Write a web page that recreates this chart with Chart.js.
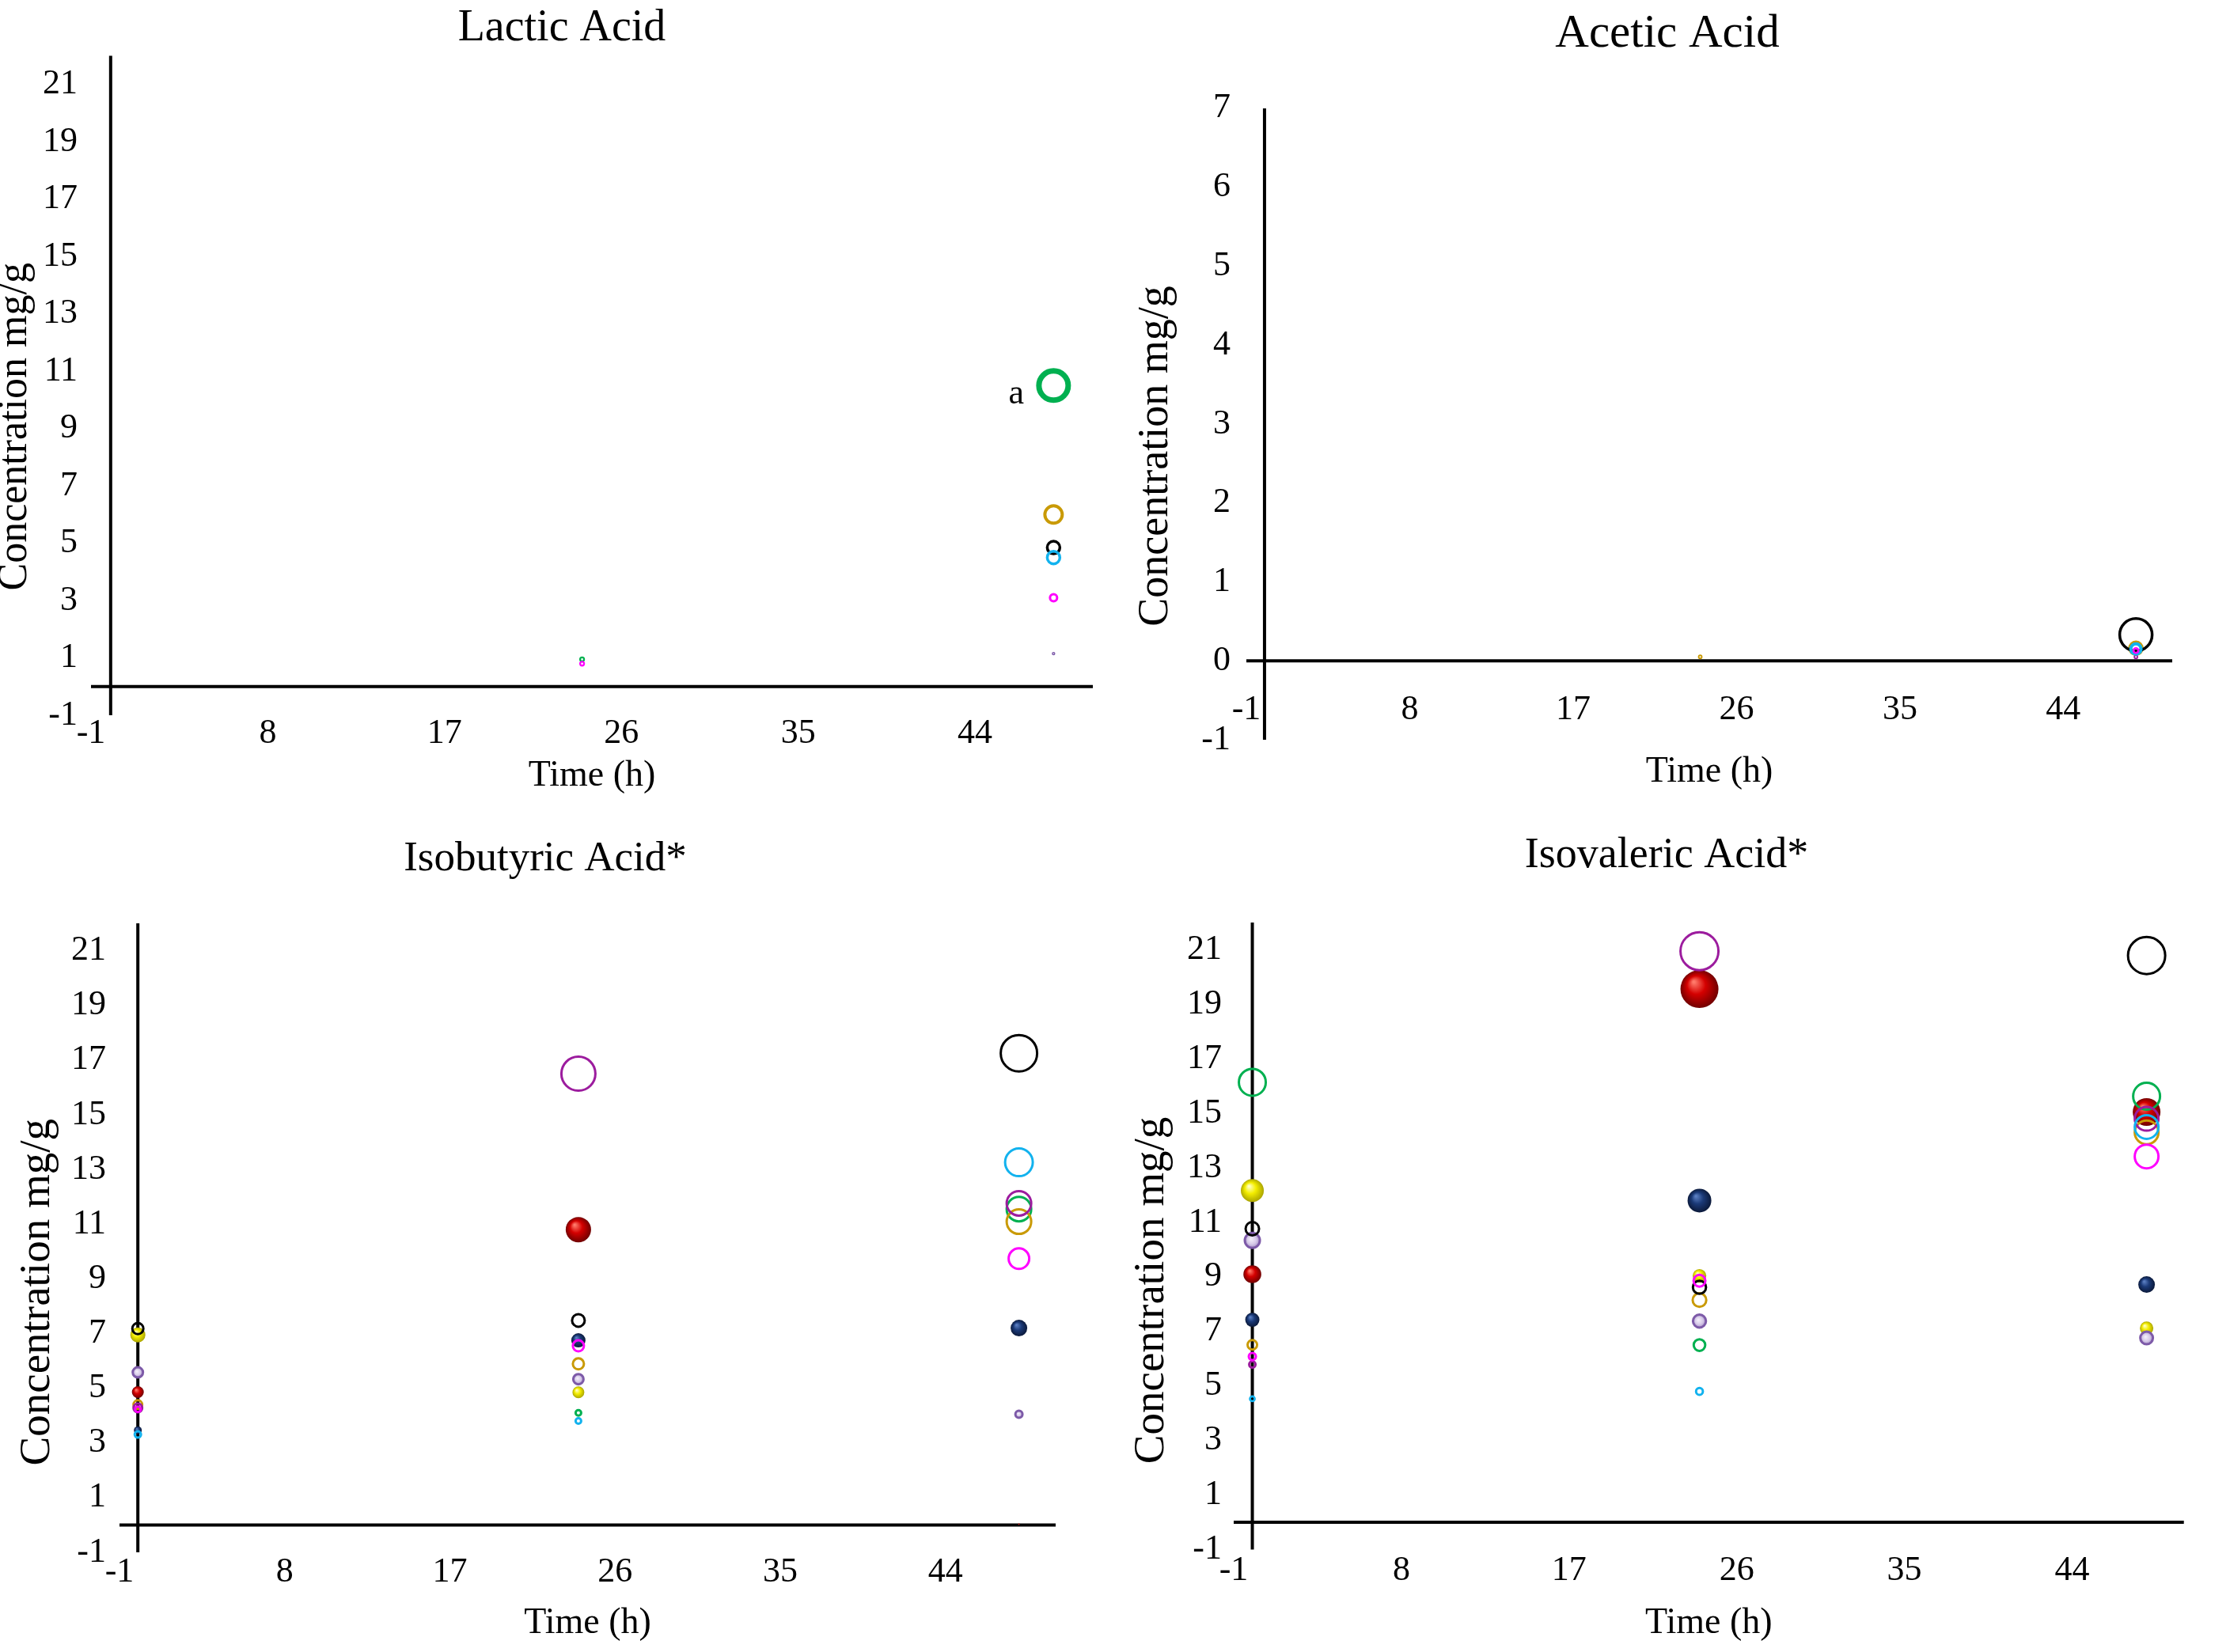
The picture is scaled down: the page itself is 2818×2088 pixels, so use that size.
<!DOCTYPE html>
<html>
<head>
<meta charset="utf-8">
<script src="https://cdn.jsdelivr.net/npm/chart.js@4.4.1/dist/chart.umd.min.js"></script>
<style>
  html, body { margin: 0; padding: 0; background: #ffffff; }
  #wrap { position: relative; width: 2818px; height: 2088px; overflow: hidden; background: #ffffff; }
  canvas { position: absolute; }
</style>
</head>
<body>
<div id="wrap">
  <canvas id="c1"></canvas>
  <canvas id="c2"></canvas>
  <canvas id="c3"></canvas>
  <canvas id="c4"></canvas>
</div>
<script>
// ---------------- DATA ----------------
const times = [0, 24, 48];                       // sampling times (h)
const xTickValues = [-1, 8, 17, 26, 35, 44];
const yTicksWide = [-1, 1, 3, 5, 7, 9, 11, 13, 15, 17, 19, 21];
const yTicksAcetic = [-1, 0, 1, 2, 3, 4, 5, 6, 7];

// series order (first one is drawn on top)
const seriesNames = ['magenta', 'cyan', 'purple', 'black', 'gold', 'green', 'lavender', 'yellow', 'navy', 'red'];

// concentrations (mg/g) per series at 0, 24, 48 h; bubble sizes per point
const lacticConc = [
  [null, 0.8, 3.1], [null, null, 4.5], [null, null, null], [null, null, 4.85], [null, null, 6.0],
  [null, 0.95, 10.5], [null, null, 1.15], [null, null, null], [null, null, null], [null, null, null]
];
const lacticSize = [
  [null, 2.5, 4.5], [null, null, 8], [null, null, null], [null, null, 8], [null, null, 11],
  [null, 2.5, 18.5], [null, null, 1.5], [null, null, null], [null, null, null], [null, null, null]
];

const aceticConc = [
  [null, null, 0.13], [null, null, 0.15], [null, null, 0.05], [null, null, 0.33], [null, 0.05, 0.16],
  [null, null, null], [null, null, null], [null, null, null], [null, null, null], [null, null, null]
];
const aceticSize = [
  [null, null, 3], [null, null, 6.5], [null, null, 2], [null, null, 20.5], [null, 2, 8],
  [null, null, null], [null, null, null], [null, null, null], [null, null, null], [null, null, null]
];

const isobutyricConc = [
  [4.23, 6.55, 9.74], [3.31, 3.8, 13.26], [4.28, 16.5, 11.76], [7.18, 7.48, 17.25], [4.4, 5.89, 11.09],
  [null, 4.1, 11.55], [5.58, 5.33, 4.05], [6.95, 4.85, null], [3.46, 6.75, 7.2], [4.86, 10.8, 0.03]
];
const isobutyricSize = [
  [3.5, 7, 13], [4, 3.5, 17.5], [5.5, 21.5, 15.5], [7, 8, 23], [5.5, 7, 15.5],
  [null, 3.5, 15.5], [6.5, 6.5, 4.5], [9.5, 7.5, null], [5, 9, 10.5], [7.5, 16, 1]
];

const isovalericConc = [
  [6.08, 8.86, 13.42], [4.53, 4.8, 14.5], [5.79, 20.95, 14.8], [10.77, 8.62, 20.79], [6.51, 8.15, 14.3],
  [16.14, 6.5, 15.63], [10.34, 7.38, 6.76], [12.17, 9.04, 7.12], [7.43, 11.8, 8.72], [9.1, 19.56, 15.05]
];
const isovalericSize = [
  [4.5, 7.5, 15], [3, 4.3, 15], [4, 24, 15], [8.5, 8.3, 23.5], [6, 8.6, 15],
  [17, 7.3, 17], [9.5, 8.2, 8], [14.5, 8.6, 8.5], [9, 15, 10.5], [11.3, 24, 17.5]
];

// ---------------- STYLES ----------------
const FONT = "'Liberation Serif', 'Times New Roman', serif";

function sphereFill(light, base, dark) {
  return (c) => {
    const raw = c.raw, chart = c.chart;
    if (!raw || !chart.chartArea) return base;
    const px = chart.scales.x.getPixelForValue(raw.x);
    const py = chart.scales.y.getPixelForValue(raw.y);
    const r = raw.r;
    const g = chart.ctx.createRadialGradient(px - r * 0.3, py - r * 0.38, r * 0.05, px, py, r * 1.02);
    g.addColorStop(0, light);
    g.addColorStop(0.45, base);
    g.addColorStop(1, dark);
    return g;
  };
}
function lavenderFill(c) {
  const raw = c.raw, chart = c.chart;
  if (!raw || !chart.chartArea) return '#d8cce8';
  const px = chart.scales.x.getPixelForValue(raw.x);
  const py = chart.scales.y.getPixelForValue(raw.y);
  const r = raw.r;
  const g = chart.ctx.createRadialGradient(px - r * 0.2, py - r * 0.2, 0, px, py, r);
  g.addColorStop(0, '#f6f2fb');
  g.addColorStop(0.6, '#d6c9e8');
  g.addColorStop(1, '#a58fc6');
  return g;
}

const seriesStyle = {
  magenta:  { border: '#ff00ff', fill: 'rgba(0,0,0,0)', ring: true },
  cyan:     { border: '#12b2ee', fill: 'rgba(0,0,0,0)', ring: true },
  purple:   { border: '#9c1c9e', fill: 'rgba(0,0,0,0)', ring: true },
  black:    { border: '#000000', fill: 'rgba(0,0,0,0)', ring: true },
  gold:     { border: '#c99a06', fill: 'rgba(0,0,0,0)', ring: true },
  green:    { border: '#00b050', fill: 'rgba(0,0,0,0)', ring: true },
  lavender: { border: '#7d5aa8', fill: lavenderFill, ring: true },
  yellow:   { border: 'rgba(0,0,0,0)', fill: sphereFill('#ffffc8', '#f4ee00', '#a9a300'), ring: false },
  navy:     { border: 'rgba(0,0,0,0)', fill: sphereFill('#5b7fc2', '#1b3a78', '#0a1838'), ring: false },
  red:      { border: 'rgba(0,0,0,0)', fill: sphereFill('#ff7a6a', '#d40000', '#6e0000'), ring: false }
};

const axisLines = {
  id: 'axisLines',
  beforeDatasetsDraw(chart) {
    const { ctx, chartArea: a, scales: { x, y } } = chart;
    const x0 = x.getPixelForValue(0);
    const y0 = y.getPixelForValue(0);
    ctx.save();
    ctx.strokeStyle = '#000';
    ctx.lineWidth = 4;
    ctx.beginPath();
    ctx.moveTo(a.left, y0); ctx.lineTo(a.right, y0);
    ctx.moveTo(x0, a.top); ctx.lineTo(x0, a.bottom);
    ctx.stroke();
    ctx.restore();
  }
};

const noteA = {
  id: 'noteA',
  afterDatasetsDraw(chart, args, opts) {
    if (!opts || !opts.text) return;
    const meta = chart.getDatasetMeta(opts.dataset);
    const el = meta && meta.data[opts.index];
    if (!el) return;
    const ctx = chart.ctx;
    ctx.save();
    ctx.fillStyle = '#000';
    ctx.font = `${opts.size}px ${FONT}`;
    ctx.textAlign = 'center';
    ctx.textBaseline = 'middle';
    ctx.fillText(opts.text, el.x + opts.dx, el.y + opts.dy);
    ctx.restore();
  }
};

function buildDatasets(conc, size, ringW) {
  return seriesNames.map((name, s) => {
    const st = seriesStyle[name];
    const pts = [];
    times.forEach((t, i) => {
      if (conc[s][i] !== null) pts.push({ x: t, y: conc[s][i], r: size[s][i] });
    });
    const bw = st.ring ? ((ringW && ringW[name]) || 3) : 0;
    return {
      label: name,
      data: pts,
      borderColor: st.border,
      backgroundColor: st.fill,
      borderWidth: (c) => (c.raw ? Math.min(bw, Math.max(1.2, c.raw.r * 0.9)) : bw),
      hoverRadius: 0,
      hoverBorderWidth: 0,
      pointStyle: 'circle'
    };
  });
}

function makeChart(p) {
  const cv = document.getElementById(p.id);
  cv.width = p.width; cv.height = p.height;
  cv.style.left = p.left + 'px'; cv.style.top = p.top + 'px';
  cv.style.width = p.width + 'px'; cv.style.height = p.height + 'px';
  return new Chart(cv, {
    type: 'bubble',
    data: { datasets: buildDatasets(p.conc, p.size, p.ringW) },
    plugins: [axisLines, noteA],
    options: {
      responsive: false,
      animation: false,
      devicePixelRatio: 1,
      events: [],
      layout: { padding: { left: p.padLeft, top: 0, bottom: 0, right: p.padRight } },
      plugins: {
        legend: { display: false },
        tooltip: { enabled: false },
        title: {
          display: true, text: p.title, color: '#000',
          font: { family: FONT, size: p.titleSize, weight: 'normal', lineHeight: 1.1 },
          padding: { top: p.titlePad[0], bottom: p.titlePad[1] }
        },
        noteA: p.note || {}
      },
      scales: {
        x: {
          type: 'linear', position: 'bottom', min: -1, max: 50,
          afterBuildTicks: (s) => { s.ticks = xTickValues.map(v => ({ value: v })); },
          afterFit: (s) => { s.height = p.xBottom; },
          grid: { display: false }, border: { display: false },
          ticks: {
            color: '#000', autoSkip: false, maxRotation: 0, mirror: true, padding: p.xTickPad,
            font: { family: FONT, size: 44 }, callback: (v) => String(v)
          },
          title: {
            display: true, text: 'Time (h)', color: '#000',
            font: { family: FONT, size: 46 }, padding: { top: 0, bottom: p.xTitlePad }
          }
        },
        y: {
          type: 'linear', position: 'left', min: -1, max: p.yMax,
          afterBuildTicks: (s) => { s.ticks = p.yTicks.map(v => ({ value: v })); },
          afterFit: (s) => { s.width = p.yLeft; },
          grid: { display: false }, border: { display: false },
          ticks: {
            color: '#000', autoSkip: false, padding: p.yTickPad,
            font: { family: FONT, size: 44 }, callback: (v) => String(v)
          },
          title: {
            display: true, text: 'Concentration mg/g' + ' '.repeat(p.ySpaces), color: '#000',
            font: { family: FONT, size: p.yTitleSize, lineHeight: 1 },
            padding: { top: p.yTitlePad, bottom: 0 }
          }
        }
      }
    }
  });
}

const panels = [
  { id: 'c1', left: 0, top: 0, width: 1422, height: 1044, title: 'Lactic Acid', titleSize: 56, titlePad: [5, 4],
    yMax: 22, yTicks: yTicksWide, padLeft: 39, yLeft: 76, padRight: 41, xBottom: 140, xTickPad: -49.8, xTitlePad: 35,
    yTickPad: 9, yTitleSize: 52, yTitlePad: -46, ySpaces: 8, conc: lacticConc, size: lacticSize,
    ringW: { green: 7, gold: 4, black: 3.5, cyan: 3.5, magenta: 3 },
    note: { text: 'a', dataset: seriesNames.indexOf('green'), index: 1, dx: -47, dy: 11, size: 44 } },
  { id: 'c2', left: 1409, top: 0, width: 1402, height: 1044, title: 'Acetic Acid', titleSize: 59, titlePad: [11.5, 60.5],
    yMax: 7, yTicks: yTicksAcetic, padLeft: 60, yLeft: 106, padRight: 66, xBottom: 109, xTickPad: 10.8, xTitlePad: 40,
    yTickPad: 12, yTitleSize: 54, yTitlePad: -35, ySpaces: 6, conc: aceticConc, size: aceticSize,
    ringW: { black: 3.5, cyan: 4, gold: 3.5, magenta: 3 } },
  { id: 'c3', left: 0, top: 1044, width: 1378, height: 1044, title: 'Isobutyric Acid*', titleSize: 53, titlePad: [12.8, 51.9],
    yMax: 22, yTicks: yTicksWide, padLeft: 44, yLeft: 107, padRight: 44, xBottom: 126, xTickPad: -51.6, xTitlePad: 8,
    yTickPad: 9, yTitleSize: 55, yTitlePad: -24, ySpaces: 10, conc: isobutyricConc, size: isobutyricSize },
  { id: 'c4', left: 1409, top: 1044, width: 1398, height: 1044, title: 'Isovaleric Acid*', titleSize: 54, titlePad: [8.3, 54.3],
    yMax: 22, yTicks: yTicksWide, padLeft: 43.3, yLeft: 106.7, padRight: 47.3, xBottom: 129.5, xTickPad: -53, xTitlePad: 8,
    yTickPad: 7, yTitleSize: 55, yTitlePad: -24.3, ySpaces: 10, conc: isovalericConc, size: isovalericSize }
];

panels.forEach(makeChart);
</script>
</body>
</html>
